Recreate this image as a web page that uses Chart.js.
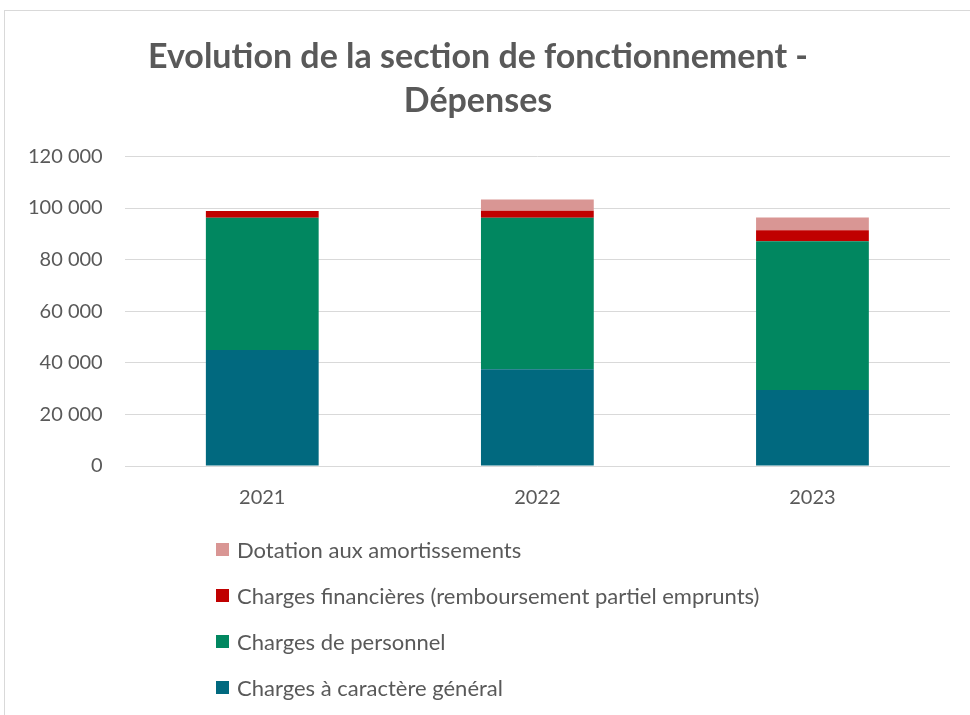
<!DOCTYPE html>
<html>
<head>
<meta charset="utf-8">
<script src="https://cdn.jsdelivr.net/npm/chart.js@4"></script>
<style>
  html, body { margin: 0; padding: 0; background: #fff; overflow: hidden; }
  #wrap { position: relative; width: 970px; height: 715px; }
  #frame { position: absolute; left: 4px; top: 10px; width: 1000px; height: 1000px; border: 1px solid #d9d9d9; box-sizing: border-box; }
  #chartBox { position: absolute; left: 0; top: 0; width: 970px; height: 542px; }
  #legend { position: absolute; left: 216px; top: 537px; font-family: Lato, sans-serif; font-size: 22px; color: #595959; }
  .item { display: flex; align-items: center; height: 24px; margin-bottom: 22px; white-space: nowrap; }
  .box { width: 13px; height: 13px; margin-right: 8px; }
</style>
</head>
<body>
<div id="wrap">
  <div id="frame"></div>
  <div id="chartBox"><canvas id="chart"></canvas></div>
  <div id="legend"></div>
</div>
<script>
const categories = ["2021", "2022", "2023"];
const chargesGenerales = [45000, 37500, 29500];
const chargesPersonnel = [51200, 58700, 57600];
const chargesFinancieres = [2600, 2700, 4300];
const dotationAmortissements = [0, 4400, 4900];

const textColor = "#595959";

function formatThousands(value) {
  return String(value).replace(/\B(?=(\d{3})+(?!\d))/g, " ");
}

const chart = new Chart(document.getElementById("chart"), {
  type: "bar",
  data: {
    labels: categories,
    datasets: [
      { label: "Charges à caractère général", data: chargesGenerales, backgroundColor: "#01697f" },
      { label: "Charges de personnel", data: chargesPersonnel, backgroundColor: "#018760" },
      { label: "Charges financières (remboursement partiel emprunts)", data: chargesFinancieres, backgroundColor: "#c00000" },
      { label: "Dotation aux amortissements", data: dotationAmortissements, backgroundColor: "#d99694" },
    ],
  },
  options: {
    responsive: true,
    maintainAspectRatio: false,
    animation: false,
    layout: { padding: { left: 6, right: 20, top: 0, bottom: 12 } },
    datasets: { bar: { categoryPercentage: 1, barPercentage: 0.41, borderWidth: 0 } },
    plugins: {
      legend: { display: false },
      tooltip: { enabled: false },
      title: {
        display: true,
        text: ["Evolution de la section de fonctionnement -", "Dépenses"],
        color: textColor,
        font: { family: "Lato", size: 34, weight: "bold", lineHeight: 1.3 },
        padding: { top: 35, bottom: 33 },
      },
    },
    scales: {
      x: {
        stacked: true,
        grid: { display: false, drawTicks: false },
        border: { display: false },
        ticks: { color: textColor, font: { family: "Lato", size: 20 }, padding: 20 },
      },
      y: {
        stacked: true,
        min: 0,
        max: 120000,
        grid: { color: "#d9d9d9", drawTicks: false },
        border: { display: false },
        ticks: {
          stepSize: 20000,
          color: textColor,
          font: { family: "Lato", size: 20 },
          padding: 22,
          callback: (value) => formatThousands(value),
        },
      },
    },
  },
});

const legendEl = document.getElementById("legend");
chart.data.datasets.slice().reverse().forEach((ds) => {
  const item = document.createElement("div");
  item.className = "item";
  const box = document.createElement("span");
  box.className = "box";
  box.style.background = ds.backgroundColor;
  const text = document.createElement("span");
  text.textContent = ds.label;
  item.appendChild(box);
  item.appendChild(text);
  legendEl.appendChild(item);
});
</script>
</body>
</html>
